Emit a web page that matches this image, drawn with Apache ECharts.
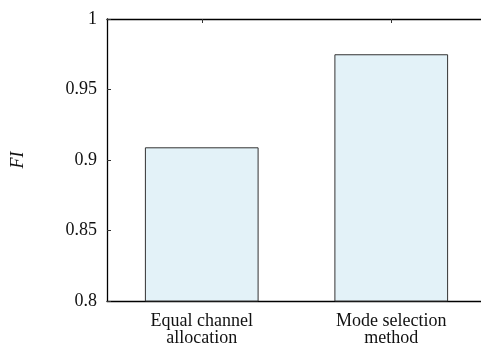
<!DOCTYPE html>
<html><head><meta charset="utf-8">
<script src="https://cdn.jsdelivr.net/npm/echarts@6/dist/echarts.min.js"></script>
<style>html,body{margin:0;padding:0;background:#fff;}#c{width:481px;height:345px;}</style>
</head><body><div id="c"></div>
<script>
const categories = ['Equal channel\nallocation', 'Mode selection\nmethod'];
const fiValues = [0.909, 0.975];
const yTicks = ['0.8', '0.85', '0.9', '0.95', '1'];

const chart = echarts.init(document.getElementById('c'), null, {renderer: 'canvas'});
const font = 'Liberation Serif';
chart.setOption({
  animation: false,
  grid: {left: 107, top: 19, right: -5, bottom: 44, containLabel: false, outerBoundsMode: 'none'},
  xAxis: [{
    type: 'category', data: categories, position: 'bottom',
    axisLine: {lineStyle: {color: '#000', width: 1.3}},
    axisTick: {show: false},
    axisLabel: {color: '#111', fontFamily: font, fontSize: 18, lineHeight: 17, margin: 12}
  }, {
    type: 'category', data: categories, position: 'top',
    axisLine: {lineStyle: {color: '#000', width: 1.3}},
    axisTick: {show: true, inside: true, alignWithLabel: true, length: 4, lineStyle: {color: '#333'}},
    axisLabel: {show: false}
  }],
  yAxis: {
    type: 'value', min: 0.8, max: 1, interval: 0.05,
    name: 'FI', nameLocation: 'middle', nameGap: 80, nameRotate: 90,
    nameTextStyle: {fontFamily: font, fontStyle: 'italic', fontSize: 18, color: '#111'},
    axisLine: {show: true, lineStyle: {color: '#000', width: 1.3}},
    axisTick: {show: true, inside: true, length: 4, lineStyle: {color: '#333'}},
    splitLine: {show: false},
    axisLabel: {color: '#111', fontFamily: font, fontSize: 18, margin: 10,
      formatter: function (v) { const s = yTicks.find(t => Math.abs(parseFloat(t) - v) < 1e-9); return s !== undefined ? s : ''; }}
  },
  series: [{
    type: 'bar', data: fiValues, barWidth: '60%', xAxisIndex: 0,
    itemStyle: {color: '#e3f2f8', borderColor: '#333', borderWidth: 1}
  }]
});
</script></body></html>
